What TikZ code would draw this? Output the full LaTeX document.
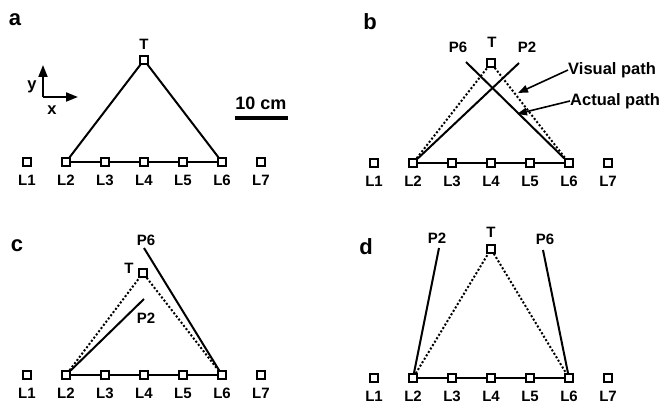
\documentclass[tikz,border=0pt]{standalone}
\usepackage{fontspec}
\setmainfont{Liberation Sans}
\usetikzlibrary{arrows.meta}

\begin{document}
\begin{tikzpicture}[
  x=1pt, y=-1pt,
  font=\fontsize{15}{16}\selectfont\bfseries,
  sq/.style={draw, fill=white, line width=1.4pt, minimum size=8pt, inner sep=0pt},
  lab/.style={inner sep=0pt},
  big/.style={font=\fontsize{16.5}{18}\selectfont\bfseries, inner sep=0pt},
  panel/.style={font=\fontsize{22}{24}\selectfont\bfseries, inner sep=0pt},
  route/.style={line width=2pt},
  seen/.style={line width=2pt, dotted},
  base/.style={line width=1.6pt},
  ptr/.style={line width=1.6pt, -{Triangle[length=10pt,width=7.5pt]}},
]
\useasboundingbox (0,0) rectangle (667,404);

% a: target and landmarks
\begin{scope}[shift={(0,162)}, name prefix=a-]
  \node[panel] (tag) at (15,-142) {a};
  \foreach \i in {1,...,7} {
    \node[sq] (L\i) at ({27+39*(\i-1)},0) {};
    \node[lab] (lL\i) at ({27+39*(\i-1)},18) {L\i};
  }
  \draw[base] (L2) -- (L3) -- (L4) -- (L5) -- (L6);
  \node[sq] (T) at (144,-102) {};
  \node[lab] (lT) at (144,-118) {T};
  \draw[route] (L2) -- (T) -- (L6);
  % axes
  \coordinate (o) at (43,-65);
  \coordinate (ytip) at (43,-97);
  \coordinate (xtip) at (78,-65);
  \draw[line width=1.8pt, -{Triangle[length=12pt,width=9pt]}] (o) -- (ytip);
  \draw[line width=1.8pt, -{Triangle[length=12pt,width=9pt]}] (o) -- (xtip);
  \node[big] (ly) at (32,-75) {y};
  \node[big] (lx) at (52,-52) {x};
  % scale bar
  \node[font=\fontsize{18}{20}\selectfont\bfseries, inner sep=0pt] (scl) at (261,-59) {10 cm};
  \coordinate (s1) at (235,-44);
  \coordinate (s2) at (288,-44);
  \draw[line width=3.8pt] (s1) -- (s2);
\end{scope}

% b: visual versus actual path
\begin{scope}[shift={(347,163)}, name prefix=b-]
  \node[panel] (tag) at (23,-141) {b};
  \foreach \i in {1,...,7} {
    \node[sq] (L\i) at ({27+39*(\i-1)},0) {};
    \node[lab] (lL\i) at ({27+39*(\i-1)},18) {L\i};
  }
  \draw[base] (L2) -- (L3) -- (L4) -- (L5) -- (L6);
  \node[sq] (T) at (144,-100) {};
  \node[lab] (lT) at (145,-121) {T};
  \draw[seen] (L2) -- (T) -- (L6);
  \coordinate (P6) at (119,-101);
  \coordinate (P2) at (172,-100);
  \node[lab] (lP6) at (111,-116) {P6};
  \node[lab] (lP2) at (180,-116) {P2};
  \draw[route] (P6) -- (L6);
  \draw[route] (P2) -- (L2);
  \node[big, anchor=west] (vis) at (221,-93) {Visual path};
  \node[big, anchor=west] (act) at (223,-62) {Actual path};
  \coordinate (vtip) at (171,-70);
  \coordinate (atip) at (170,-49);
  \draw[ptr] (vis.west) -- (vtip);
  \draw[ptr] (act.west) -- (atip);
\end{scope}

% c
\begin{scope}[shift={(0,375)}, name prefix=c-]
  \node[panel] (tag) at (17,-129) {c};
  \foreach \i in {1,...,7} {
    \node[sq] (L\i) at ({27+39*(\i-1)},0) {};
    \node[lab] (lL\i) at ({27+39*(\i-1)},18) {L\i};
  }
  \draw[base] (L2) -- (L3) -- (L4) -- (L5) -- (L6);
  \node[sq] (T) at (143,-102) {};
  \node[lab] (lT) at (129,-107) {T};
  \draw[seen] (L2) -- (T) -- (L6);
  \coordinate (P6) at (144,-127);
  \coordinate (P2) at (144,-76);
  \node[lab] (lP6) at (146,-135) {P6};
  \node[lab] (lP2) at (146,-57) {P2};
  \draw[route] (P6) -- (L6);
  \draw[route] (L2) -- (P2);
\end{scope}

% d
\begin{scope}[shift={(347,378)}, name prefix=d-]
  \node[panel] (tag) at (19,-131) {d};
  \foreach \i in {1,...,7} {
    \node[sq] (L\i) at ({27+39*(\i-1)},0) {};
    \node[lab] (lL\i) at ({27+39*(\i-1)},18) {L\i};
  }
  \draw[base] (L2) -- (L3) -- (L4) -- (L5) -- (L6);
  \node[sq] (T) at (144,-129) {};
  \node[lab] (lT) at (144,-146) {T};
  \draw[seen] (L2) -- (T) -- (L6);
  \coordinate (P2) at (92,-130);
  \coordinate (P6) at (196,-128);
  \node[lab] (lP2) at (90,-140) {P2};
  \node[lab] (lP6) at (198,-139) {P6};
  \draw[route] (P2) -- (L2);
  \draw[route] (P6) -- (L6);
\end{scope}
\end{tikzpicture}
\end{document}
